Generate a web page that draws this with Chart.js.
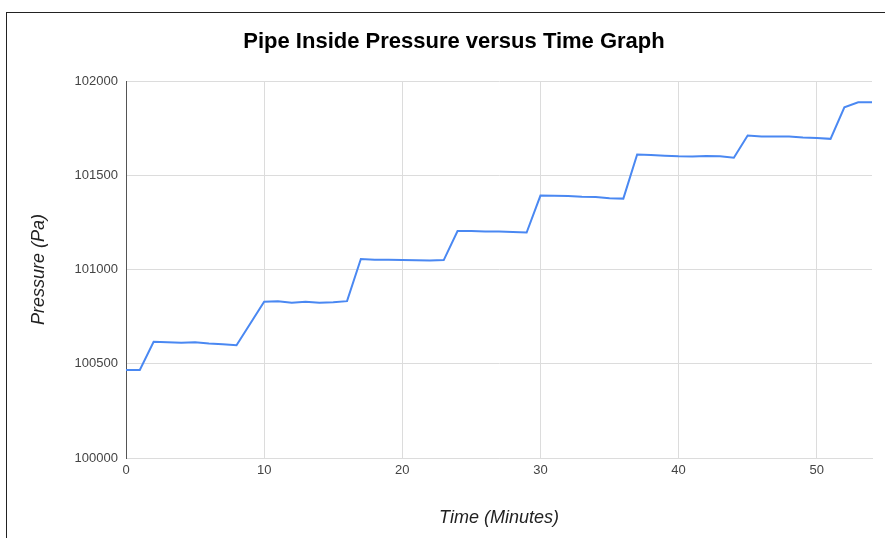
<!DOCTYPE html>
<html>
<head>
<meta charset="utf-8">
<script src="https://cdn.jsdelivr.net/npm/chart.js@4"></script>
<style>
  html, body { margin: 0; padding: 0; background: #fff; }
  #wrap { position: relative; width: 885px; height: 538px; overflow: hidden; }
  #frame { position: absolute; left: 6px; top: 12px; width: 900px; height: 600px;
           border-top: 1px solid #222; border-left: 1px solid #222; pointer-events: none; }
  canvas { position: absolute; left: 0; top: 0; }
</style>
</head>
<body>
<div id="wrap">
  <canvas id="chart" width="885" height="538"></canvas>
  <div id="frame"></div>
</div>
<script>
// Elapsed time in minutes
const minutes = [0, 1, 2, 3, 4, 5, 6, 7, 8, 9,
                 10, 11, 12, 13, 14, 15, 16, 17, 18, 19,
                 20, 21, 22, 23, 24, 25, 26, 27, 28, 29,
                 30, 31, 32, 33, 34, 35, 36, 37, 38, 39,
                 40, 41, 42, 43, 44, 45, 46, 47, 48, 49,
                 50, 51, 52, 53, 54];

// Pressure measured inside the pipe (Pa)
const pressure = [100467, 100467, 100617, 100614, 100612, 100614, 100607, 100603, 100598, 100714,
                  100829, 100832, 100824, 100829, 100824, 100826, 100832, 101056, 101052, 101052,
                  101050, 101049, 101048, 101050, 101204, 101204, 101202, 101201, 101199, 101196,
                  101392, 101391, 101390, 101386, 101384, 101378, 101376, 101610, 101608, 101604,
                  101601, 101600, 101602, 101601, 101593, 101711, 101705, 101706, 101705, 101700,
                  101698, 101693, 101860, 101887, 101887];

const chartTitle = 'Pipe Inside Pressure versus Time Graph';
const xTitle = 'Time (Minutes)';
const yTitle = 'Pressure (Pa)';

const points = minutes.map((m, i) => ({ x: m, y: pressure[i] }));

const FONT = '"Liberation Sans", Arial, sans-serif';

// Heading drawn at a fixed spot above the plot
const headingPlugin = {
  id: 'heading',
  afterDraw(chart) {
    const ctx = chart.ctx;
    ctx.save();
    ctx.font = 'bold 22px ' + FONT;
    ctx.fillStyle = '#000';
    ctx.textAlign = 'center';
    ctx.textBaseline = 'middle';
    ctx.fillText(chartTitle, 454, 42);
    ctx.restore();
  }
};

new Chart(document.getElementById('chart'), {
  type: 'line',
  data: {
    datasets: [{
      data: points,
      borderColor: '#4a88f2',
      borderWidth: 2,
      pointRadius: 0,
      tension: 0,
      fill: false
    }]
  },
  plugins: [headingPlugin],
  options: {
    responsive: false,
    animation: false,
    layout: { padding: { top: 81, left: 0, right: 13, bottom: 0 } },
    plugins: {
      legend: { display: false },
      tooltip: { enabled: false },
      title: { display: false }
    },
    scales: {
      x: {
        type: 'linear',
        min: 0,
        max: 54,
        ticks: {
          stepSize: 10,
          includeBounds: false,
          color: '#444',
          padding: 5,
          font: { family: FONT, size: 13 }
        },
        grid: { color: '#dcdcdc', lineWidth: 1, drawTicks: false },
        border: { color: '#dcdcdc', width: 1 },
        title: {
          display: true,
          text: xTitle,
          color: '#222',
          font: { family: FONT, size: 18, style: 'italic' },
          padding: { top: 0, bottom: 9 }
        },
        afterFit: s => { s.height = 80; }
      },
      y: {
        min: 100000,
        max: 102000,
        ticks: {
          stepSize: 500,
          color: '#444',
          padding: 8,
          font: { family: FONT, size: 13 },
          callback: v => String(v)
        },
        grid: { color: '#dcdcdc', lineWidth: 1, drawTicks: false },
        border: { color: '#555', width: 1 },
        title: {
          display: true,
          text: yTitle,
          color: '#222',
          font: { family: FONT, size: 18, style: 'italic' },
          padding: { top: 28, bottom: 0 }
        },
        afterFit: s => { s.width = 126; }
      }
    }
  }
});
</script>
</body>
</html>
